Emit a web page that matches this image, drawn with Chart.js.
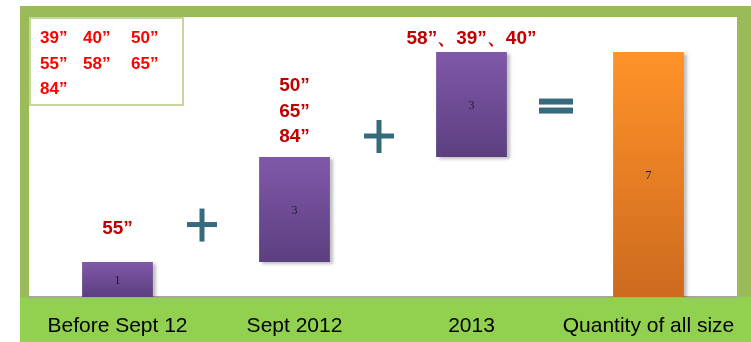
<!DOCTYPE html>
<html>
<head>
<meta charset="utf-8">
<script src="https://cdn.jsdelivr.net/npm/chart.js@4.4.0/dist/chart.umd.min.js"></script>
<style>
  html, body { margin: 0; padding: 0; background: #fff; }
  #wrap { width: 751px; height: 342px; }
</style>
</head>
<body>
<div id="wrap"><canvas id="sizeChart" width="751" height="342"></canvas></div>
<script>
// Screen sizes added over time (waterfall)

const categories = ['Before Sept 12', 'Sept 2012', '2013', 'Quantity of all size'];
const barStart = [0, 1, 4, 0];
const barEnd = [1, 4, 7, 7];
const barValues = [1, 3, 3, 7];
const newSizes = [['55”'], ['50”', '65”', '84”'], ['58”、39”、40”'], []];
const allSizes = [['39”', '40”', '50”'], ['55”', '58”', '65”'], ['84”']];
const operators = ['+', '+', '='];

// colours taken from the slide
const colors = {
    frame: '#9BBB59',
    band: '#92D050',
    boxLine: '#C3D69B',
    red: '#FF0000',
    darkRed: '#C00000',
    teal: '#366A7D',
    axis: '#A6A6A6',
};

function barFill(ctx) {
    const chart = ctx.chart;
    const i = ctx.dataIndex;
    const isTotal = i === categories.length - 1;
    if (!chart.chartArea || !chart.scales.y) return isTotal ? '#F08428' : '#6E4E96';
    const y0 = chart.scales.y.getPixelForValue(barEnd[i]);
    const y1 = chart.scales.y.getPixelForValue(barStart[i]);
    const g = chart.ctx.createLinearGradient(0, y0, 0, y1);
    if (isTotal) {
        g.addColorStop(0, '#FF9329');
        g.addColorStop(1, '#CD6A1E');
    } else {
        g.addColorStop(0, '#8058A9');
        g.addColorStop(1, '#5D3F80');
    }
    return g;
}

// background frame, green band under the axis
const framePlugin = {
    id: 'frame',
    beforeDraw(chart) {
        const { ctx, chartArea } = chart;
        ctx.save();
        ctx.fillStyle = colors.frame;
        ctx.fillRect(20, 6, chart.width - 20, chartArea.bottom - 6);
        ctx.fillStyle = '#fff';
        ctx.fillRect(chartArea.left, chartArea.top, chartArea.right - chartArea.left, chartArea.bottom - chartArea.top);
        ctx.fillStyle = colors.band;
        ctx.fillRect(20, chartArea.bottom, chart.width - 20, chart.height - chartArea.bottom);
        ctx.restore();
    },
    beforeDatasetsDraw(chart) {
        const ctx = chart.ctx;
        ctx.save();
        ctx.shadowColor = 'rgba(0,0,0,0.25)';
        ctx.shadowOffsetX = 3;
        ctx.shadowOffsetY = 2;
        ctx.shadowBlur = 3;
    },
    afterDatasetsDraw(chart) {
        chart.ctx.restore();
    }
};

// numbers, size labels, + / = signs and the box of all sizes
const notesPlugin = {
    id: 'notes',
    afterDraw(chart) {
        const { ctx, scales } = chart;
        const x = scales.x, y = scales.y;
        ctx.save();

        // value inside each bar
        ctx.fillStyle = '#1C1C2C';
        ctx.font = '12px "Liberation Serif", "Times New Roman", serif';
        ctx.textAlign = 'center';
        ctx.textBaseline = 'middle';
        barValues.forEach((v, i) => {
            const ym = (y.getPixelForValue(barStart[i]) + y.getPixelForValue(barEnd[i])) / 2;
            ctx.fillText(String(v), x.getPixelForValue(i), ym + 1);
        });

        // sizes added at each step
        const gap = [28, 15, 8];
        ctx.fillStyle = colors.darkRed;
        ctx.font = 'bold 19px "Liberation Sans", Arial, sans-serif';
        ctx.textBaseline = 'alphabetic';
        newSizes.forEach((lines, i) => {
            const top = y.getPixelForValue(barEnd[i]) - gap[i];
            lines.slice().reverse().forEach((t, k) => {
                ctx.fillText(t, x.getPixelForValue(i), top - k * 25.5);
            });
        });

        // + and = between the bars
        const opY = [2.07, 4.6, 5.47];
        ctx.fillStyle = colors.teal;
        operators.forEach((op, i) => {
            const cx = (x.getPixelForValue(i) + x.getPixelForValue(i + 1)) / 2 - 4;
            const cy = y.getPixelForValue(opY[i]);
            if (op === '+') {
                ctx.fillRect(cx - 15, cy - 2.5, 30, 5);
                ctx.fillRect(cx - 2.5, cy - 16, 5, 33);
            } else {
                ctx.fillRect(cx - 17, cy - 7, 34, 6);
                ctx.fillRect(cx - 17, cy + 2, 34, 6);
            }
        });

        // box listing all sizes
        ctx.fillStyle = '#fff';
        ctx.fillRect(30, 18, 153, 87);
        ctx.strokeStyle = colors.boxLine;
        ctx.lineWidth = 2;
        ctx.strokeRect(30, 18, 153, 87);
        ctx.fillStyle = colors.red;
        ctx.font = 'bold 17px "Liberation Sans", Arial, sans-serif';
        ctx.textAlign = 'left';
        const colX = [40, 83, 131];
        allSizes.forEach((row, r) => {
            row.forEach((t, c) => ctx.fillText(t, colX[c], 43 + r * 25.5));
        });

        ctx.restore();
    }
};

new Chart(document.getElementById('sizeChart'), {
    type: 'bar',
    data: {
        labels: categories,
        datasets: [{
            data: barStart.map((s, i) => [s, barEnd[i]]),
            backgroundColor: barFill,
            borderWidth: 0,
            categoryPercentage: 1,
            barPercentage: 0.4,
        }]
    },
    options: {
        responsive: false,
        animation: false,
        layout: { padding: { left: 29, right: 14, top: 17, bottom: -1 } },
        plugins: {
            legend: { display: false },
            tooltip: { enabled: false },
        },
        scales: {
            x: {
                afterFit(scale) {
                    scale.height = 46;
                    scale.paddingLeft = 0;
                    scale.paddingRight = 0;
                },
                grid: { display: false, drawTicks: false },
                border: { display: true, color: colors.axis, width: 2 },
                ticks: {
                    color: '#000',
                    padding: 17,
                    maxRotation: 0,
                    autoSkip: false,
                    font: { family: '"Liberation Sans", Arial, sans-serif', size: 21 },
                },
            },
            y: {
                display: false,
                min: 0,
                max: 8,
            }
        }
    },
    plugins: [framePlugin, notesPlugin]
});
</script>
</body>
</html>
